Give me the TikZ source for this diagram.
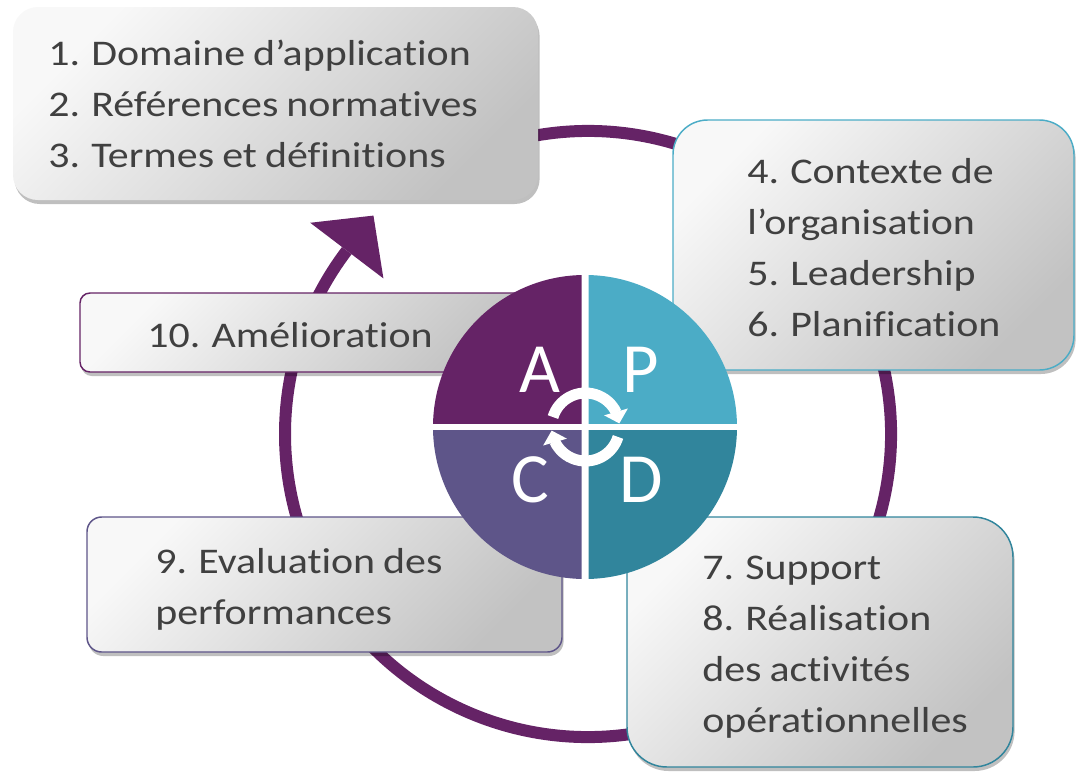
\documentclass[tikz,border=0pt]{standalone}
\usepackage{fontspec}
\setmainfont{Carlito}
\newfontfamily\boxfont[FakeStretch=1.16,Ligatures={NoCommon},WordSpace=0.85]{Carlito}
\usetikzlibrary{shadows,calc,arrows.meta,bending}
\definecolor{pA}{HTML}{652366}
\definecolor{pP}{HTML}{4BACC6}
\definecolor{pC}{HTML}{5E5589}
\definecolor{pD}{HTML}{31859C}
\definecolor{txt}{HTML}{404040}
\definecolor{gl}{HTML}{F8F8F8}
\definecolor{gd}{HTML}{C2C2C2}
\begin{document}
\begin{tikzpicture}[x=0.75pt,y=-0.75pt,
  ring/.style={draw=pA, line width=9pt},
  pbox/.style={inner sep=0pt, line width=1.1pt, top color=gl, bottom color=gd, shading angle=45,
    drop shadow={shadow xshift=1.2pt, shadow yshift=-3pt, fill=black, opacity=0.25}},
  boxtxt/.style={text=txt, font=\boxfont\fontsize{27.1}{38.25}\selectfont, align=left, anchor=north west, inner sep=0pt},
  letter/.style={text=white, font=\fontsize{53}{60}\selectfont, anchor=base, inner sep=0pt},
  cyc/.style={draw=white, line width=8.25pt, -{Triangle[width=18pt,length=9pt]}}
]
\useasboundingbox (0,0) rectangle (1076,779);

% outer cycle ring with arrow
\coordinate (rc) at (588,434);
\draw[ring] ([shift={(-105:303)}]rc) arc[start angle=-105, end angle=217.25, radius=303];
\coordinate (ae) at ([shift={(217.25:303)}]rc);
\fill[pA] ($(ae)+(307.25:44)$) -- ($(ae)+(37.25:46)$) -- ($(ae)+(217.25:46)$) -- cycle;

% boxes
\node[pbox, draw=none, minimum width=393.75pt, minimum height=144.75pt, rounded corners=18.75pt] (b1) at (275.5,103.5) {};
\node[boxtxt] (t1) at (48,29.3) {\strut 1. Domaine d’application\\2. Références normatives\\3. Termes et définitions};

\node[pbox, draw=pP, minimum width=300.75pt, minimum height=187.5pt, rounded corners=26pt] (b4) at (873.5,245) {};
\node[boxtxt] (t4) at (747,147.3) {\strut 4. Contexte de\\l’organisation\\5. Leadership\\6. Planification};

\node[pbox, draw=pD, minimum width=289.5pt, minimum height=187.5pt, rounded corners=30pt] (b7) at (820,642) {};
\node[boxtxt] (t7) at (702,543.3) {\strut 7. Support\\8. Réalisation\\des activités\\opérationnelles};

\node[pbox, draw=pA, minimum width=345pt, minimum height=59.25pt, rounded corners=7.5pt] (b10) at (310,332.5) {};
\node[boxtxt] (t10) at (147,311.3) {\strut 10. Amélioration};

\node[pbox, draw=pC, minimum width=356.25pt, minimum height=101.25pt, rounded corners=11pt] (b9) at (324.5,584.5) {};
\node[boxtxt] (t9) at (155,537.3) {\strut 9. Evaluation des\\performances};

% PDCA circle
\coordinate (pc) at (585,427);
\begin{scope}\clip (581.5,423.5) rectangle (420,260); \fill[pA] (pc) circle[radius=152]; \end{scope}
\begin{scope}\clip (588.5,423.5) rectangle (750,260); \fill[pP] (pc) circle[radius=152]; \end{scope}
\begin{scope}\clip (581.5,430.5) rectangle (420,600); \fill[pC] (pc) circle[radius=152]; \end{scope}
\begin{scope}\clip (588.5,430.5) rectangle (750,600); \fill[pD] (pc) circle[radius=152]; \end{scope}

\node[letter] (lA) at (540,392) {A};
\node[letter] (lP) at (641,392) {P};
\node[letter] (lC) at (530,502) {C};
\node[letter] (lD) at (641,502) {D};

\coordinate (cc) at (585.5,427);
\draw[cyc] ([shift={(-163:34)}]cc) arc[start angle=-163, end angle=-6, radius=34];
\draw[cyc] ([shift={(17:34)}]cc) arc[start angle=17, end angle=174, radius=34];
\end{tikzpicture}
\end{document}
